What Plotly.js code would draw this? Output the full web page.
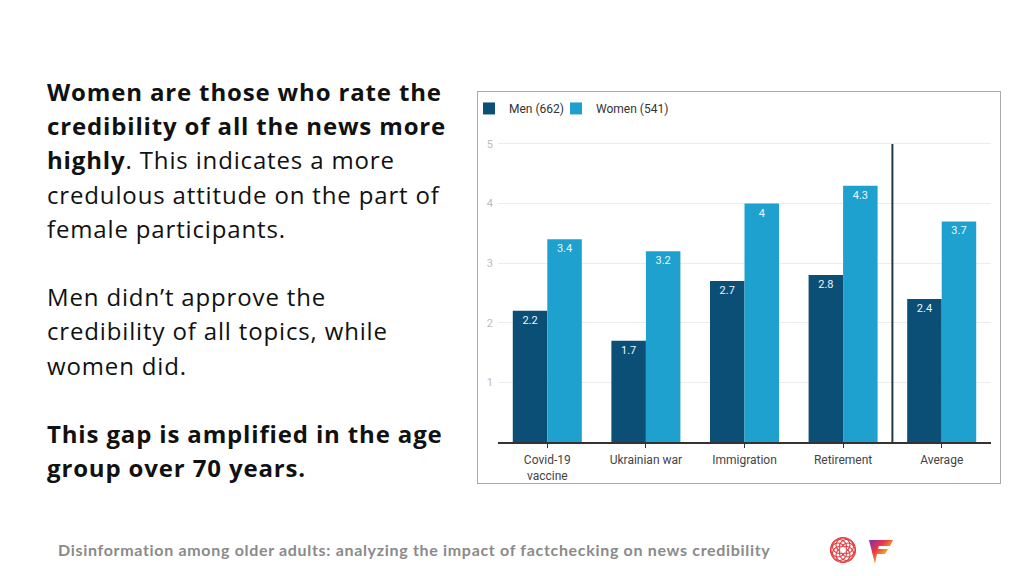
<!DOCTYPE html>
<html>
<head>
<meta charset="utf-8">
<script src="https://cdn.plot.ly/plotly-3.0.1.min.js"></script>
<style>
  html, body { margin: 0; padding: 0; background: #fff; }
  body { width: 1024px; height: 576px; position: relative; overflow: hidden; }
  #notes {
    position: absolute; left: 47px; top: 75px;
    font-family: "Open Sans", sans-serif; font-size: 24px; line-height: 34.2px;
    letter-spacing: 0.85px; color: #111; white-space: nowrap;
  }
  #notes b { font-weight: 700; }
  #box {
    position: absolute; left: 477px; top: 91px; width: 522px; height: 391px;
    border: 1px solid #aaa; overflow: visible;
  }
  /* chart div pokes out a bit on the left so the legend can sit closer to the border */
  #chart { position: absolute; left: -9px; top: 0; width: 531px; height: 391px; }
  #footer {
    position: absolute; left: 58px; top: 540px;
    font-family: Lato, sans-serif; font-weight: 700; font-size: 16px;
    letter-spacing: 0.68px; color: #8a8a8a; white-space: nowrap;
  }
  #logos { position: absolute; left: 826px; top: 534px; }
</style>
</head>
<body>
<div id="notes">
  <b>Women are those who rate the</b><br>
  <b>credibility of all the news more</b><br>
  <b>highly</b>. This indicates a more<br>
  credulous attitude on the part of<br>
  female participants.<br>
  <br>
  Men didn’t approve the<br>
  credibility of all topics, while<br>
  women did.<br>
  <br>
  <b>This gap is amplified in the age</b><br>
  <b>group over 70 years.</b>
</div>

<div id="box"><div id="chart"></div></div>

<div id="footer">Disinformation among older adults: analyzing the impact of factchecking on news credibility</div>

<svg id="logos" width="72" height="34" viewBox="0 0 72 34">
  <g fill="none" stroke="#e23b3f" stroke-width="1.1" transform="translate(17,16)">
    <circle r="12.5"/>
    <circle cx="5" cy="0" r="7"/>
    <circle cx="-5" cy="0" r="7"/>
    <circle cx="0" cy="5" r="7"/>
    <circle cx="0" cy="-5" r="7"/>
    <circle cx="3.5" cy="3.5" r="7"/>
    <circle cx="-3.5" cy="-3.5" r="7"/>
    <circle cx="3.5" cy="-3.5" r="7"/>
    <circle cx="-3.5" cy="3.5" r="7"/>
  </g>
  <circle cx="17" cy="16" r="3" fill="#fff"/>
  <defs>
    <linearGradient id="fg" x1="0" y1="0" x2="1" y2="1">
      <stop offset="0" stop-color="#7a2fb0"/>
      <stop offset="0.35" stop-color="#e8364b"/>
      <stop offset="0.6" stop-color="#f7a21b"/>
      <stop offset="1" stop-color="#3dbb54"/>
    </linearGradient>
  </defs>
  <path d="M43,6 L67,6 L64,12 L53,12 L52,15 L62,15 L59,20 L51,20 L49,30 Z" fill="url(#fg)"/>
</svg>

<script>
// survey averages per topic (1-5 scale)
const topics = ['Covid-19<br>vaccine', 'Ukrainian war', 'Immigration', 'Retirement', 'Average'];
const menScores = [2.2, 1.7, 2.7, 2.8, 2.4];
const womenScores = [3.4, 3.2, 4, 4.3, 3.7];
const seriesNames = ['Men (662)', 'Women (541)'];
const yTicks = [1, 2, 3, 4, 5];

const barText = {
  textposition: 'inside',
  insidetextanchor: 'end',
  texttemplate: '%{y}',
  textfont: { family: 'Roboto, sans-serif', size: 11, color: '#eaf6fb' },
  constraintext: 'none',
  hoverinfo: 'skip'
};

const traces = [
  Object.assign({ type: 'bar', x: topics, y: menScores, name: seriesNames[0],
    legendwidth: 42, marker: { color: '#0b4f77' } }, barText),
  Object.assign({ type: 'bar', x: topics, y: womenScores, name: seriesNames[1],
    marker: { color: '#1fa1cf' } }, barText)
];

const layout = {
  width: 531, height: 391,
  margin: { l: 29, r: 9, t: 49, b: 41 },
  paper_bgcolor: 'rgba(0,0,0,0)', plot_bgcolor: 'rgba(0,0,0,0)',
  font: { family: 'Roboto, sans-serif', size: 12, color: '#444' },
  barmode: 'group', bargap: 0.3, bargroupgap: 0,
  showlegend: true,
  legend: {
    orientation: 'h', xref: 'container', yref: 'container',
    x: 0, y: 0.995, xanchor: 'left', yanchor: 'top',
    font: { size: 12, color: '#333' }, itemwidth: 30,
    bgcolor: 'rgba(0,0,0,0)'
  },
  xaxis: {
    showline: true, linecolor: '#333', linewidth: 1.5,
    ticks: 'outside', ticklen: 4, tickcolor: '#333', ticklabelstandoff: 2,
    tickfont: { size: 12, color: '#444' }, showgrid: false
  },
  yaxis: {
    range: [0, 5.05], tickvals: yTicks, showline: false, zeroline: false,
    gridcolor: '#ececec', tickfont: { size: 11, color: '#bdbdbd' }, ticks: '',
    ticklabelstandoff: 4
  },
  shapes: [{
    type: 'line', xref: 'x', yref: 'y', x0: 3.5, x1: 3.5, y0: 0, y1: 5,
    line: { color: '#1d3a50', width: 2 }
  }]
};

Plotly.newPlot('chart', traces, layout, { staticPlot: true, displayModeBar: false });
</script>
</body>
</html>
